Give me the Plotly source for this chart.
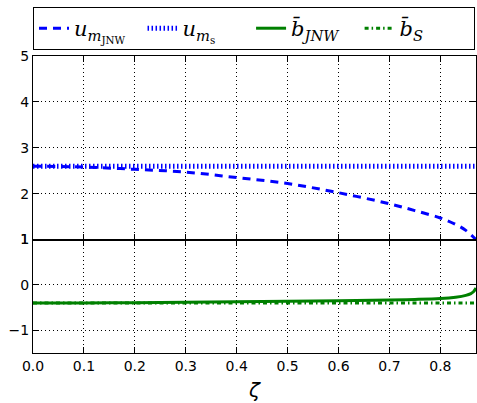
import plotly.graph_objects as go
from plotly.subplots import make_subplots

zeta_jnw = [0.0, 0.1, 0.2, 0.3, 0.4, 0.5, 0.6, 0.7, 0.75, 0.8, 0.83, 0.85, 0.87]
u_m_jnw = [2.60, 2.58, 2.53, 2.47, 2.35, 2.22, 2.02, 1.78, 1.63, 1.47, 1.33, 1.2, 1.0]

zeta_s = [0.0, 0.87]
u_m_s = [2.6, 2.6]

zeta_b = [0.0, 0.1, 0.2, 0.3, 0.4, 0.5, 0.6, 0.7, 0.75, 0.8, 0.83, 0.85, 0.86, 0.865, 0.87]
b_jnw = [-0.40, -0.40, -0.39, -0.38, -0.37, -0.36, -0.35, -0.33, -0.32, -0.30, -0.27, -0.23, -0.19, -0.15, -0.07]
b_s = [-0.40, -0.40]

x_ticks = [0.0, 0.1, 0.2, 0.3, 0.4, 0.5, 0.6, 0.7, 0.8]
x_labels = ["0.0", "0.1", "0.2", "0.3", "0.4", "0.5", "0.6", "0.7", "0.8"]

fig = make_subplots(rows=2, cols=1, shared_xaxes=True, vertical_spacing=0,
                    row_heights=[0.618, 0.382])

blue = "#0000ff"
green = "#008000"

fig.add_trace(go.Scatter(x=zeta_jnw, y=u_m_jnw, mode="lines", line_shape="spline",
                         line=dict(color=blue, width=3, dash="8px,6px"),
                         name="<i>u</i><sub><i>m</i><sub>JNW</sub></sub>"), row=1, col=1)
fig.add_trace(go.Scatter(x=zeta_s, y=u_m_s, mode="lines",
                         line=dict(color=blue, width=5, dash="1.5px,2.5px"),
                         name="<i>u</i><sub><i>m</i><sub>s</sub></sub>"), row=1, col=1)
fig.add_trace(go.Scatter(x=zeta_b, y=b_jnw, mode="lines", line_shape="spline",
                         line=dict(color=green, width=3),
                         name="<i>b̄</i><sub><i>JNW</i></sub>"), row=2, col=1)
fig.add_trace(go.Scatter(x=zeta_s, y=b_s, mode="lines",
                         line=dict(color=green, width=3, dash="4px,3px,1.5px,3px"),
                         name="<i>b̄</i><sub><i>S</i></sub>"), row=2, col=1)

axis_common = dict(showline=True, linecolor="black", linewidth=1, mirror="ticks",
                   ticks="inside", ticklen=6, tickcolor="black",
                   showgrid=True, gridcolor="black", griddash="1px,3px", gridwidth=1,
                   zeroline=False, tickfont=dict(family="DejaVu Sans", size=14, color="black"))

fig.update_xaxes(range=[0, 0.87], tickvals=x_ticks, ticktext=x_labels, **axis_common)
fig.update_xaxes(showticklabels=False, row=1, col=1)
fig.update_xaxes(title=dict(text="<i>ζ</i>", font=dict(family="DejaVu Sans", size=20, color="black"),
                            standoff=10), row=2, col=1)
fig.update_yaxes(range=[1, 5], tickvals=[1, 2, 3, 4, 5], row=1, col=1, **axis_common)
fig.update_yaxes(range=[-1.5, 1], tickvals=[-1, 0, 1], row=2, col=1, **axis_common)

fig.update_layout(
    width=477, height=403,
    margin=dict(l=33, r=1, t=56, b=50, autoexpand=False),
    plot_bgcolor="white", paper_bgcolor="white",
    font=dict(family="DejaVu Sans", color="black"),
    legend=dict(orientation="h", x=0, y=1.02, xanchor="left", yanchor="bottom",
                bordercolor="black", borderwidth=1, bgcolor="white",
                font=dict(family="DejaVu Serif", size=21, color="black"),
                entrywidth=0.245, entrywidthmode="fraction",
                itemwidth=30),
)

fig.write_html("out.html")
